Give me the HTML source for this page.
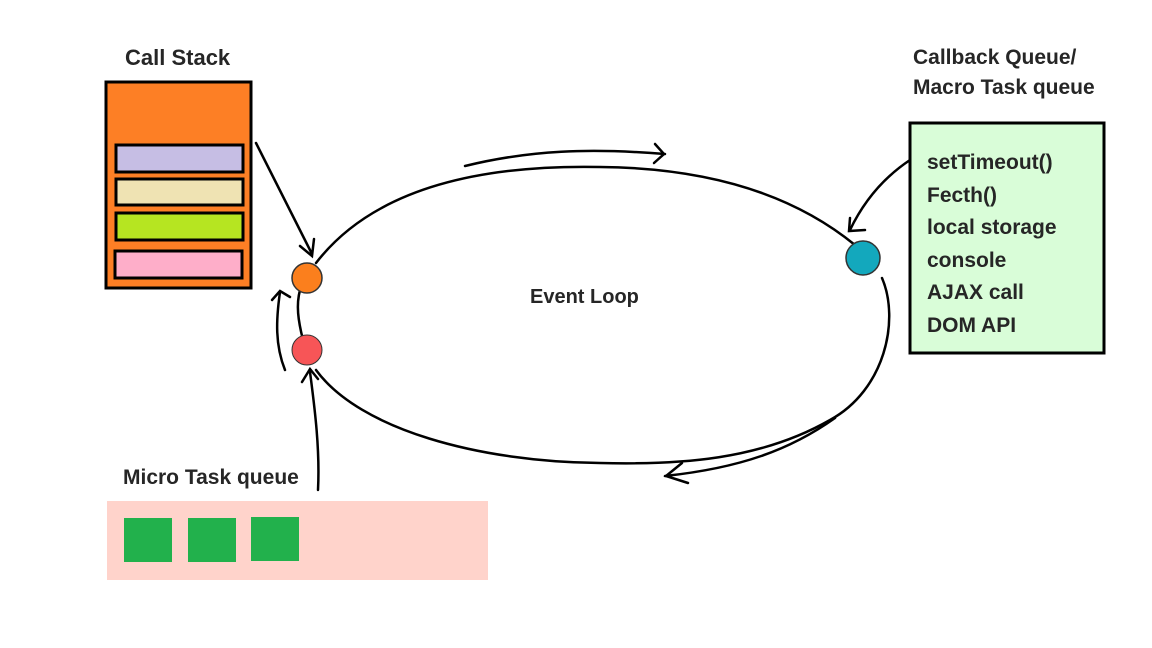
<!DOCTYPE html>
<html><head><meta charset="utf-8"><style>
html,body{margin:0;padding:0;background:#fff;}
body{width:1152px;height:648px;position:relative;overflow:hidden;font-family:"Liberation Sans",sans-serif;}
.t{position:absolute;font-weight:bold;color:#262626;font-size:21px;}
</style></head><body>
<svg width="1152" height="648" style="position:absolute;left:0;top:0">
<!-- call stack -->
<rect x="106" y="82" width="145" height="206" fill="#fd7f25" stroke="#000" stroke-width="3"/>
<rect x="116" y="145" width="127" height="27" fill="#c6bee4" stroke="#000" stroke-width="3"/>
<rect x="116" y="179" width="127" height="26" fill="#efe3b3" stroke="#000" stroke-width="3"/>
<rect x="116" y="213" width="127" height="27" fill="#b6e521" stroke="#000" stroke-width="3"/>
<rect x="115" y="251" width="127" height="27" fill="#feaec9" stroke="#000" stroke-width="3"/>
<!-- callback box -->
<rect x="910" y="123" width="194" height="230" fill="#d9fdd8" stroke="#000" stroke-width="3"/>
<!-- micro task -->
<rect x="107" y="501" width="381" height="79" fill="#ffd3cb"/>
<rect x="124" y="518" width="48" height="44" fill="#22b14c"/>
<rect x="188" y="518" width="48" height="44" fill="#22b14c"/>
<rect x="251" y="517" width="48" height="44" fill="#22b14c"/>
<!-- ellipse -->
<g fill="none" stroke="#000" stroke-width="2.5" stroke-linecap="round">
<path d="M316 263 C 380 180, 500 165, 600 167 C 720 168, 800 200, 855 245"/>
<path d="M882 278 C 900 320, 885 390, 830 420 C 760 460, 680 465, 600 463 C 480 462, 360 430, 316 370"/>
<path d="M300 290 C 296 305, 298 320, 303 340"/>
<!-- top arrow -->
<path d="M465 166 C 530 150, 590 148, 665 154"/>
<path d="M655 144 L664 154 L654 163"/>
<!-- bottom arrow -->
<path d="M835 418 C 790 450, 740 468, 665 476"/>
<path d="M682 463 L666 476 L688 483"/>
<!-- call stack arrow -->
<path d="M256 143 L312 254"/>
<path d="M300 246 L312 256 L314 239"/>
<!-- callback arrow -->
<path d="M910 160 C 880 180, 862 205, 850 230"/>
<path d="M850 218 L849 231 L865 230"/>
<!-- micro arrow -->
<path d="M318 490 C 320 450, 315 410, 310 372"/>
<path d="M302 382 L310 369 L318 379"/>
<!-- side arrow -->
<path d="M285 370 C 275 345, 276 320, 280 292"/>
<path d="M272 300 L280 291 L290 297"/>
</g>
<circle cx="307" cy="278" r="15" fill="#fb7f1d" stroke="#333" stroke-width="1.5"/>
<circle cx="307" cy="350" r="15" fill="#f75557" stroke="#333" stroke-width="1"/>
<circle cx="863" cy="258" r="17" fill="#13a8bd" stroke="#333" stroke-width="1.5"/>
</svg>
<div class="t" style="left:125px;top:45px;font-size:22px">Call Stack</div>
<div class="t" style="left:913px;top:43px;line-height:30px">Callback Queue/<br>Macro Task queue</div>
<div class="t" style="left:927px;top:147px;line-height:32.5px">setTimeout()<br>Fecth()<br>local storage<br>console<br>AJAX call<br>DOM API</div>
<div class="t" style="left:530px;top:286px;font-size:20px">Event Loop</div>
<div class="t" style="left:123px;top:466px">Micro Task queue</div>
</body></html>
